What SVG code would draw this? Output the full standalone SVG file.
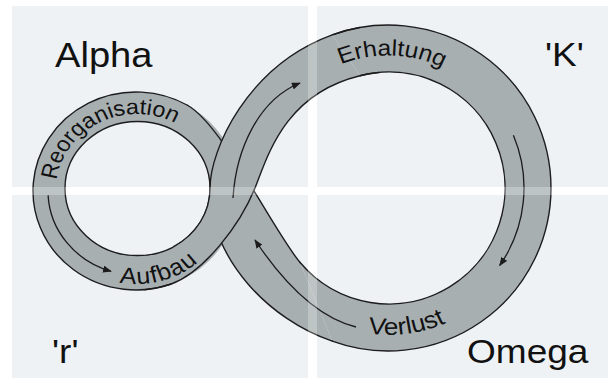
<svg xmlns="http://www.w3.org/2000/svg" width="608" height="381" viewBox="0 0 608 381">
  <style>
    .quad { fill: #eef2f5; }
    .band { fill: #a8afb1; stroke: none; }
    .edge { fill: none; stroke: #1c1c1c; stroke-width: 1.4; stroke-linecap: round; }
    .flow { fill: none; stroke: #1c1c1c; stroke-width: 1.3; marker-end: url(#head); }
    .big { font-family: "Liberation Sans", Arial, sans-serif; font-size: 34px; fill: #111; }
    .lab { font-family: "Liberation Sans", Arial, sans-serif; font-size: 22px; fill: #111; }
    .gap { fill: #ffffff; opacity: 0.25; }
  </style>
  <defs>
    <marker id="head" viewBox="0 0 10 8" markerWidth="9" markerHeight="7.2" refX="9" refY="4" orient="auto" markerUnits="userSpaceOnUse">
      <path d="M0,0 L10,4 L0,8 Z" fill="#1c1c1c"/>
    </marker>
    <!-- baselines for the curved labels (drawn inside a 1.09 horizontal stretch) -->
    <path id="pReorg" d="M51.38,190 A74.31 76 0 0 1 200,190"/>
    <path id="pAufbau" d="M64.06,256.47 A87.16 94 0 0 0 212.85,190"/>
    <path id="pErh" d="M234.4,188 A121.56 132.5 0 0 1 477.52,188"/>
    <path id="pVerl" d="M221.1,188 A134.86 147 0 0 0 490.82,188"/>
  </defs>

  <!-- background panels -->
  <rect x="0" y="0" width="608" height="381" fill="#ffffff"/>
  <g id="panels">
    <rect class="quad" x="12" y="6" width="296" height="181"/>
    <rect class="quad" x="317" y="6" width="291" height="181"/>
    <rect class="quad" x="12" y="195" width="296" height="183"/>
    <rect class="quad" x="317" y="195" width="291" height="183"/>
  </g>

  <!-- figure-eight band -->
  <g id="loop-under">
    <path class="band" fill-rule="evenodd" d="M33,191 A103 99 0 1 1 239,191 A103 99 0 1 1 33,191 Z M65,188.5 A72.5 67 0 1 0 210,188.5 A72.5 67 0 1 0 65,188.5 Z"/>
    <path class="band" d="M332.25,34.83 A163 163 0 1 1 332.25,341.17 L300.14,262.56 A116 116 0 1 0 359.95,75.7 Z"/>
    <path class="band" d="M187.5,105.26 C222.5,124.7 274,232 300.14,262.56 L332.25,341.17 C270,320 210,260 210,188.5 A72.5 67 0 0 0 188.77,141.12 Z"/>
    <path class="edge" d="M171.23,284.03 A103 99 0 1 1 187.5,105.26"/>
    <path class="edge" d="M65,188.5 A72.5 67 0 1 0 210,188.5 A72.5 67 0 1 0 65,188.5 Z"/>
    <path class="edge" d="M332.25,34.83 A163 163 0 1 1 332.25,341.17"/>
    <path class="edge" d="M359.95,75.7 A116 116 0 1 1 300.14,262.56"/>
    <path class="edge" d="M187.5,105.26 C222.5,124.7 274,232 300.14,262.56"/>
    <path class="edge" d="M210,188.5 C210,260 270,320 332.25,341.17"/>
  </g>
  <g id="loop-over">
    <path class="band" d="M173.75,246.52 A72.5 67 0 0 0 210,188.5 C210,150 247,66 332.25,34.83 L359.95,75.7 C285,94 268,155 255,188 C240,225 204,272 171.23,284.03 Z"/>
    <path class="edge" d="M173.75,246.52 A72.5 67 0 0 0 210,188.5 C210,150 247,66 332.25,34.83 A163 163 0 0 1 359.7,27.48"/>
    <path class="edge" d="M144.98,289.62 A103 99 0 0 0 171.23,284.03 C204,272 240,225 255,188 C268,155 285,94 359.95,75.7 A116 116 0 0 1 378.9,72.44"/>
  </g>

  <!-- flow arrows -->
  <g id="connectors">
    <path class="flow" d="M48.1,195.4 A89 84 0 0 0 111,271.3"/>
    <path class="flow" d="M233,198 C236,150 258,100 300,83"/>
    <path class="flow" d="M513.4,135.3 A136 136 0 0 1 499.7,265.5"/>
    <path class="flow" d="M356,327 C320,318 285,285 255,240"/>
  </g>

  <!-- phase labels on the band -->
  <g id="band-labels" transform="scale(1.09,1)">
    <text class="lab" style="font-size:21.5px"><textPath href="#pReorg" startOffset="10">Reorganisation</textPath></text>
    <text class="lab" style="font-size:23px;letter-spacing:1px"><textPath href="#pAufbau" startOffset="53">Aufbau</textPath></text>
    <text class="lab" style="font-size:22.5px"><textPath href="#pErh" startOffset="155">Erhaltung</textPath></text>
    <text class="lab" style="font-size:24px"><textPath href="#pVerl" startOffset="203">Verlust</textPath></text>
  </g>

  <!-- corner labels -->
  <g id="alpha"><text class="big" style="font-size:35px" transform="translate(55,67) scale(1.09,1)">Alpha</text></g>
  <g id="k"><text class="big" transform="translate(545,66) scale(1.09,1)">'K'</text></g>
  <g id="r"><text class="big" transform="translate(52,363) scale(1.09,1)">'r'</text></g>
  <g id="omega"><text class="big" transform="translate(467,363) scale(1.09,1)">Omega</text></g>

  <!-- panel gaps show faintly through the band -->
  <rect class="gap" x="308" y="0" width="9" height="381"/>
  <rect class="gap" x="0" y="187" width="308" height="8"/>
  <rect class="gap" x="317" y="187" width="291" height="8"/>
</svg>
